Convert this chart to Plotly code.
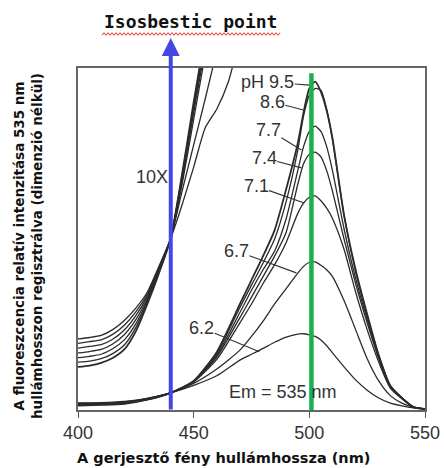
import plotly.graph_objects as go

# ---------------- data ----------------
wavelength = [400, 410, 420, 430, 440, 450, 460, 470, 475, 480, 485, 490, 495, 497.5,
              500, 502.5, 505, 507.5, 510, 515, 520, 525, 530, 535, 540, 545, 550]

ph_labels = ["6.2", "6.7", "7.1", "7.4", "7.7", "8.6", "pH 9.5"]

em_62 = [0.0208, 0.0215, 0.025, 0.034, 0.05, 0.072, 0.10, 0.146, 0.163, 0.18, 0.198, 0.213, 0.222, 0.223,
         0.22, 0.215, 0.205, 0.188, 0.167, 0.126, 0.088, 0.058, 0.035, 0.02, 0.012, 0.006, 0.003]
em_67 = [0.0195, 0.0205, 0.0235, 0.034, 0.05, 0.078, 0.12, 0.175, 0.215, 0.26, 0.31, 0.355, 0.40, 0.42,
         0.432, 0.433, 0.423, 0.41, 0.39, 0.32, 0.235, 0.15, 0.085, 0.042, 0.02, 0.008, 0.003]
em_71 = [0.017, 0.019, 0.022, 0.033, 0.05, 0.082, 0.148, 0.255, 0.31, 0.37, 0.425, 0.49, 0.575, 0.605,
         0.622, 0.626, 0.612, 0.59, 0.56, 0.47, 0.345, 0.235, 0.14, 0.064, 0.033, 0.009, 0.003]
em_74 = [0.016, 0.018, 0.021, 0.032, 0.05, 0.083, 0.155, 0.27, 0.33, 0.39, 0.45, 0.52, 0.66, 0.72,
         0.748, 0.754, 0.74, 0.70, 0.64, 0.50, 0.37, 0.255, 0.15, 0.068, 0.035, 0.009, 0.003]
em_77 = [0.015, 0.017, 0.02, 0.031, 0.05, 0.084, 0.16, 0.285, 0.35, 0.41, 0.465, 0.56, 0.70, 0.77,
         0.815, 0.83, 0.815, 0.77, 0.70, 0.53, 0.385, 0.265, 0.155, 0.07, 0.036, 0.009, 0.003]
em_86 = [0.014, 0.016, 0.019, 0.03, 0.05, 0.085, 0.165, 0.30, 0.365, 0.43, 0.50, 0.61, 0.76, 0.86,
         0.92, 0.94, 0.935, 0.88, 0.79, 0.57, 0.405, 0.275, 0.16, 0.072, 0.036, 0.009, 0.003]
em_95 = [0.013, 0.015, 0.018, 0.03, 0.05, 0.085, 0.17, 0.31, 0.38, 0.45, 0.526, 0.646, 0.78, 0.87,
         0.94, 0.96, 0.93, 0.875, 0.795, 0.57, 0.41, 0.28, 0.16, 0.07, 0.035, 0.008, 0.003]

# 10X magnified curves (left part only)
wavelength_10x = [400, 405, 410, 415, 420, 425, 430, 435, 440, 445, 450, 455, 460, 465, 470]
x10_62 = [0.208, 0.212, 0.218, 0.235, 0.262, 0.298, 0.345, 0.42, 0.50, 0.60, 0.71, 0.825, 0.88, 0.96, 1.09]
x10_67 = [0.195, 0.200, 0.205, 0.221, 0.248, 0.287, 0.339, 0.417, 0.50, 0.64, 0.775, 0.91, 1.05, None, None]
x10_71 = [0.181, 0.186, 0.191, 0.207, 0.234, 0.276, 0.333, 0.413, 0.50, 0.66, 0.85, 1.04, None, None, None]
x10_74 = [0.167, 0.171, 0.177, 0.193, 0.220, 0.264, 0.327, 0.410, 0.50, 0.67, 0.87, 1.06, None, None, None]
x10_77 = [0.153, 0.157, 0.163, 0.179, 0.205, 0.252, 0.321, 0.407, 0.50, 0.68, 0.88, 1.08, None, None, None]
x10_86 = [0.140, 0.143, 0.150, 0.165, 0.190, 0.241, 0.316, 0.403, 0.50, 0.685, 0.89, 1.09, None, None, None]
x10_95 = [0.126, 0.130, 0.138, 0.152, 0.177, 0.230, 0.310, 0.400, 0.50, 0.69, 0.90, 1.10, None, None, None]

x_ticks = [400, 450, 500, 550]
isosbestic_nm = 440.1
emission_peak_nm = 500.9

# ---------------- figure ----------------
W, H = 444, 468
ML, MR, MT, MB = 78, 19, 68, 58
PW, PH = W - ML - MR, H - MT - MB


def px_to_paper(px, py):
    return (px - ML) / PW, (H - MB - py) / PH


fig = go.Figure()
LINE = "#2b2b2b"

main_series = [em_62, em_67, em_71, em_74, em_77, em_86, em_95]
x10_series = [x10_62, x10_67, x10_71, x10_74, x10_77, x10_86, x10_95]

for i, ys in enumerate(x10_series):
    fig.add_trace(go.Scatter(x=wavelength_10x, y=ys, mode="lines",
                             line=dict(color=LINE, width=1.8 if i == 6 else 1.3,
                                       shape="spline", smoothing=0.6),
                             connectgaps=False, showlegend=False, hoverinfo="skip"))
for i, ys in enumerate(main_series):
    fig.add_trace(go.Scatter(x=wavelength, y=ys, mode="lines",
                             line=dict(color=LINE, width=1.8 if i == 6 else 1.3,
                                       shape="spline", smoothing=0.6),
                             showlegend=False, hoverinfo="skip"))

# green emission line
fig.add_shape(type="line", xref="x", yref="y", x0=emission_peak_nm, x1=emission_peak_nm,
              y0=-0.003, y1=0.985, line=dict(color="#17b24d", width=4.5))

# blue isosbestic arrow
top_px = 38
fig.add_annotation(x=isosbestic_nm, y=px_to_paper(0, top_px)[1], xref="x", yref="paper",
                   ax=0, ay=(H - MB) - top_px + 1, axref="pixel", ayref="pixel",
                   text="", showarrow=True, arrowhead=2, arrowsize=0.9, arrowwidth=4,
                   arrowcolor="#4646e4", standoff=0, startstandoff=0)

# pH labels with leader lines: (text, text_x, text_y, head_x, head_y)
label_pos = [
    ("6.2", 453.5, 0.240, 478.4, 0.170),
    ("6.7", 468.5, 0.465, 494.4, 0.401),
    ("7.1", 477.0, 0.655, 497.8, 0.605),
    ("7.4", 480.5, 0.737, 496.6, 0.708),
    ("7.7", 482.3, 0.819, 496.6, 0.760),
    ("8.6", 484.0, 0.901, 497.4, 0.877),
    ("pH 9.5", 482.0, 0.959, 500.0, 0.950),
]
LFONT = dict(family="Liberation Sans, Arial, sans-serif", size=18, color="#333333")
for txt, tx, ty, hx, hy in label_pos:
    fig.add_annotation(x=hx, y=hy, ax=tx, ay=ty, xref="x", yref="y", axref="x", ayref="y",
                       text=txt, showarrow=True, arrowhead=0, arrowwidth=1.1,
                       arrowcolor="#333333", font=LFONT, borderpad=0)

fig.add_annotation(x=431.9, y=0.681, xref="x", yref="y", text="10X", showarrow=False, font=LFONT)
fig.add_annotation(x=488.4, y=0.053, xref="x", yref="y", text="Em = 535 nm", showarrow=False, font=LFONT)

# title
tx, ty = px_to_paper(190, 22)
fig.add_annotation(x=tx, y=ty, xref="paper", yref="paper", xanchor="center", yanchor="middle",
                   text="<b>Isosbestic point</b>", showarrow=False,
                   font=dict(family="DejaVu Sans Mono, monospace", size=18, color="#111111"))
# red wavy underline (spell-check squiggle)
pts = []
x = 102
k = 0
while x <= 280:
    py = 34 + (1.3 if k % 2 == 0 else -1.3)
    px_, py_ = px_to_paper(x, py)
    pts.append(f"{'M' if k == 0 else 'L'} {px_:.5f},{py_:.5f}")
    x += 2
    k += 1
fig.add_shape(type="path", xref="paper", yref="paper", path=" ".join(pts),
              line=dict(color="#e03030", width=1))

# axis titles
ax_, ay_ = px_to_paper(223, 458)
fig.add_annotation(x=ax_, y=ay_, xref="paper", yref="paper", xanchor="center", yanchor="middle",
                   text="<b>A gerjesztő fény hullámhossza (nm)</b>", showarrow=False,
                   font=dict(family="DejaVu Sans, Verdana, sans-serif", size=14.5, color="#111111"))
yx_, yy_ = px_to_paper(28, 246)
fig.add_annotation(x=yx_, y=yy_, xref="paper", yref="paper", xanchor="center", yanchor="middle",
                   textangle=-90,
                   text="<b>A fluoreszcencia relatív intenzitása 535 nm<br>hullámhosszon regisztrálva (dimenzió nélkül)</b>",
                   showarrow=False,
                   font=dict(family="DejaVu Sans, Verdana, sans-serif", size=13.5, color="#111111"))

fig.update_layout(
    width=W, height=H, margin=dict(l=ML, r=MR, t=MT, b=MB, autoexpand=False),
    paper_bgcolor="white", plot_bgcolor="white",
    xaxis=dict(range=[400, 550], tickvals=x_ticks, ticks="outside", ticklen=6, tickwidth=1.2,
               tickcolor="#555555", showline=True, mirror=True, linecolor="#666666", linewidth=1.5,
               showgrid=False, zeroline=False, automargin=False,
               tickfont=dict(family="Liberation Sans, Arial, sans-serif", size=18, color="#333333")),
    yaxis=dict(range=[0, 1], showticklabels=False, ticks="", showline=True, mirror=True,
               linecolor="#666666", linewidth=1.5, showgrid=False, zeroline=False, automargin=False),
)

fig.write_html("out.html")
